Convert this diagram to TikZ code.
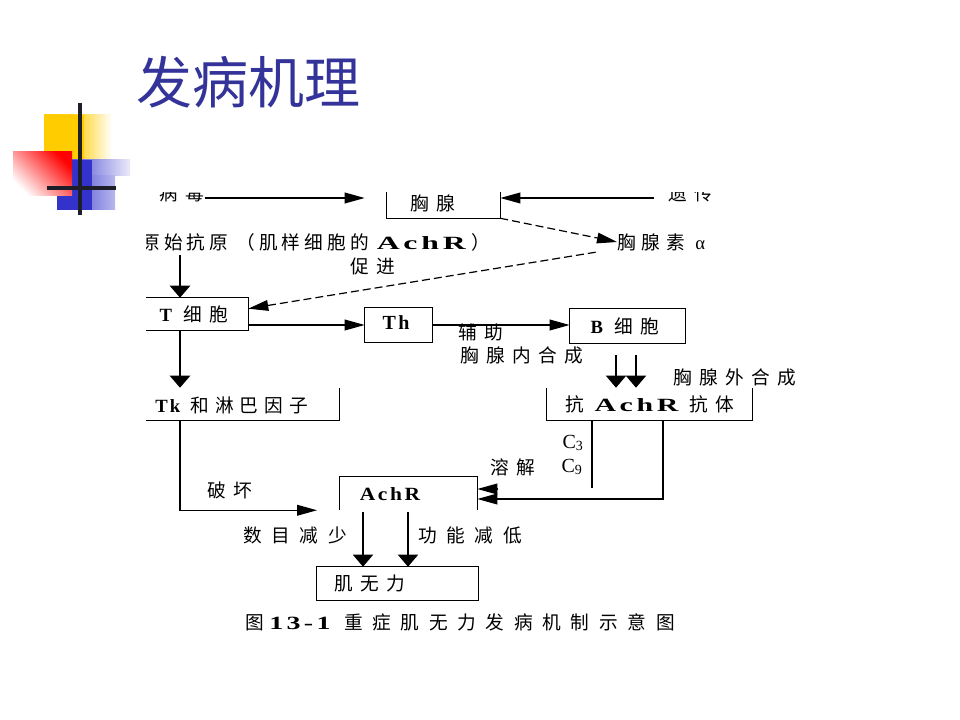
\documentclass[tikz,border=0pt]{standalone}
\usepackage{fontspec}
\setmainfont{Liberation Serif}
\newfontfamily\cjk[LetterSpace=40]{Noto Sans CJK SC}
\newfontfamily\cjkmid[LetterSpace=32]{Noto Sans CJK SC}
\newfontfamily\cjknarrow[LetterSpace=22]{Noto Sans CJK SC}
\newfontfamily\cjkwide[LetterSpace=52]{Noto Sans CJK SC}
\newfontfamily\cjktitle{Noto Sans CJK SC}
\newfontfamily\lat[LetterSpace=12]{Liberation Serif}
\usetikzlibrary{arrows.meta,fit}
\definecolor{titleblue}{RGB}{51,51,153}
\definecolor{decoblue}{RGB}{51,51,204}
\definecolor{decoyellow}{RGB}{255,204,0}
\definecolor{decoline}{RGB}{30,30,40}
\newcommand{\lb}[1]{{\lat\bfseries #1}}
\newcommand{\lbw}[2]{\scalebox{#1}[1]{\lat\bfseries #2}}
\tikzset{
  txt/.style={inner sep=0pt, font=\cjk\fontsize{14}{16}\selectfont},
  mtxt/.style={inner sep=0pt, font=\cjkmid\fontsize{14}{16}\selectfont},
  ntxt/.style={inner sep=0pt, font=\cjknarrow\fontsize{14}{16}\selectfont},
  wtxt/.style={inner sep=0pt, font=\cjkwide\fontsize{14}{16}\selectfont},
  boxnode/.style={inner sep=0pt, draw=none},
  ln/.style={line width=1.1pt, draw=black},
  thickln/.style={line width=2pt, draw=black},
  hhead/.style={-{Triangle[length=15pt,width=8pt]}},
  vhead/.style={-{Triangle[length=9pt,width=15pt]}},
  dashln/.style={line width=0.9pt, draw=black, dash pattern=on 6pt off 3pt}
}
\begin{document}
\begin{tikzpicture}[x=0.75pt,y=-0.75pt]
\useasboundingbox (0,0) rectangle (960,720);
\fill[white] (0,0) rectangle (960,720);

% ---------- decoration ----------
\shade[left color=decoyellow, right color=white, middle color=decoyellow!85!white] (44,115) rectangle (112,185);
\fill[decoyellow] (44,115) rectangle (84,185);
\shade[left color=decoblue, right color=decoblue!10!white] (57,160) rectangle (130,176);
\shade[left color=decoblue, right color=decoblue!35!white] (57,176) rectangle (115,210);
\fill[decoblue] (57,160) rectangle (92,210);
\shade[shading=axis, top color=red, bottom color=white, shading angle=-45] (13,152) rectangle (72,196);
\draw[line width=2.4pt, decoline] (80,103) -- (80,215);
\draw[line width=2.4pt, decoline] (47,188) -- (116,188);

% ---------- title ----------
\node[inner sep=0pt, text=titleblue, font=\cjktitle\fontsize{42}{46}\selectfont] (title) at (248,82) {发病机理};

% ---------- diagram (clipped like the embedded scan) ----------
\begin{scope}
\clip (146,193) rectangle (900,660);

% boxes
\node[boxnode, fit={(387,170) (500,218)}] (thymus) {};
\node[boxnode, fit={(120,298) (248,330)}] (tcell) {};
\node[boxnode, fit={(365,308) (432,342)}] (th) {};
\node[boxnode, fit={(570,309) (685,343)}] (bcell) {};
\node[boxnode, fit={(547,388) (752,420)}] (antibody) {};
\node[boxnode, fit={(120,388) (339,420)}] (tk) {};
\node[boxnode, fit={(340,477) (477,510)}] (achr) {};
\node[boxnode, fit={(317,567) (478,600)}] (muscle) {};

\draw[ln] (thymus.north west) rectangle (thymus.south east);
\draw[ln] (tcell.north west) rectangle (tcell.south east);
\draw[ln] (th.north west) rectangle (th.south east);
\draw[ln] (bcell.north west) rectangle (bcell.south east);
\draw[ln] (antibody.north west) -- (antibody.south west) -- (antibody.south east) -- (antibody.north east);
\draw[ln] (tk.north east) -- (tk.south east) -- (tk.south west);
\draw[ln] (achr.south west) -- (achr.north west) -- (achr.north east) -- (achr.south east);
\draw[ln] (muscle.north west) rectangle (muscle.south east);

% texts
\node[txt] (tthymus) at (433,203) {胸腺};
\node[txt] (ttcell) at (194,314) {\lb{T} 细胞};
\node[txt, font=\lat\bfseries\fontsize{15}{17}\selectfont] (tth) at (396,323) {Th};
\node[txt] (tbcell) at (625,326) {\lb{B} 细胞};
\node[txt, anchor=west] (tantibody) at (565,404) {抗\hspace{8pt}\lbw{1.6}{AchR}\hspace{8pt}抗体};
\node[mtxt, anchor=west] (ttk) at (155,405) {\lb{Tk} 和淋巴因子};
\node[txt] (tachr) at (390,494) {\lbw{1.15}{AchR}};
\node[txt] (tmuscle) at (370,583) {肌无力};

\node[txt] (virus) at (182,193) {病毒};
\node[txt] (heredity) at (691,193) {遗传};
\node[mtxt, anchor=west] (thymosin) at (617,242) {胸腺素 {\lat α}};
\node[ntxt, anchor=west] (antigen) at (141,242) {原始抗原\hspace{6pt}（肌样细胞的\hspace{6pt}\lbw{1.7}{AchR}\hspace{4pt}）};
\node[txt] (promote) at (373,266) {促进};
\node[txt] (help) at (481,332) {辅助};
\node[txt] (intra) at (522,355) {胸腺内合成};
\node[txt] (extra) at (735,377) {胸腺外合成};
\node[txt] (destroy) at (230,490) {破坏};
\node[txt, font=\lat\fontsize{15}{17}\selectfont] (c3) at (573,443) {C\textsubscript{3}};
\node[txt] (lysis) at (513,467) {溶解};
\node[txt, font=\lat\fontsize{15}{17}\selectfont] (c9) at (572,467) {C\textsubscript{9}};
\node[wtxt] (fewer) at (295,535) {数目减少};
\node[wtxt] (lower) at (470,535) {功能减低};
\node[wtxt, anchor=west] (caption) at (245,622) {图\hspace{4pt}\lbw{1.5}{13-1}\hspace{10pt}重症肌无力发病机制示意图};

% helper coordinates (line columns)
\coordinate (a1) at (180,255);
\coordinate (b1) at (616,355);
\coordinate (b2) at (636,355);
\coordinate (c1) at (592,488);
\coordinate (u1) at (498,489);
\coordinate (c2) at (663,499);
\coordinate (d1) at (363,512);
\coordinate (d2) at (408,512);

% connectors
\draw[ln, hhead, shorten >=16.5pt] (virus.east) ++(0,5) coordinate (v0) -- (v0 -| thymus.west);
\draw[ln, hhead, shorten <=11pt] (heredity.west) ++(0,5) coordinate (h0) -- (h0 -| thymus.east);
\draw[dashln, hhead] (thymus.south east) -- (thymosin.west);
\draw[dashln, hhead] ([xshift=-16pt,yshift=-1pt]thymosin.south west) -- ([yshift=4pt]tcell.east);
\draw[thickln, vhead] (a1) -- (a1 |- tcell.north);
\draw[ln, hhead] (tcell.east |- th.west) -- (th.west);
\draw[ln, hhead] (th.east) -- (bcell.west |- th.east);
\draw[thickln, vhead] (tcell.south -| a1) -- (tk.north -| a1);
\draw[ln, vhead] (b1) -- (b1 |- antibody.north);
\draw[ln, vhead] (b2) -- (b2 |- antibody.north);
\draw[ln, hhead, shorten >=17pt] (tk.south -| a1) |- (achr.south west);
\draw[ln] (antibody.south -| c1) -- (c1);
\draw[ln, hhead] (u1) -- (u1 -| achr.east);
\draw[ln, hhead] (antibody.south -| c2) |- (achr.east |- c2);
\draw[ln, vhead] (d1) -- (d1 |- muscle.north);
\draw[ln, vhead] (d2) -- (d2 |- muscle.north);
\end{scope}
\end{tikzpicture}
\end{document}
